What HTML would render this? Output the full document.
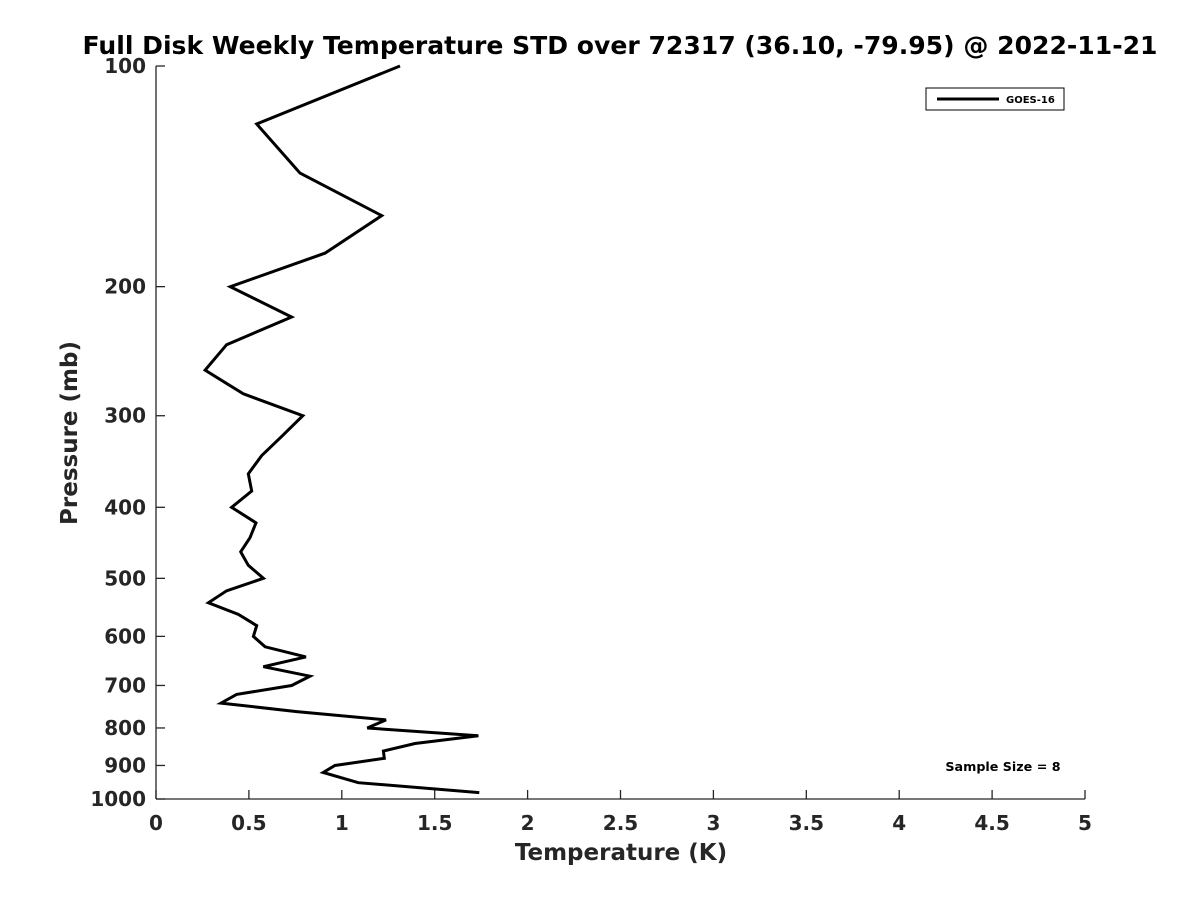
<!DOCTYPE html>
<html><head><meta charset="utf-8"><style>
html,body{margin:0;padding:0;background:#fff;}
svg{display:block;font-family:"DejaVu Sans","Liberation Sans",sans-serif;}
</style></head><body>
<svg id="chart" width="1200" height="900">
<text x="620" y="54" text-anchor="middle" font-size="25" font-weight="bold" textLength="1075" lengthAdjust="spacingAndGlyphs">Full Disk Weekly Temperature STD over 72317 (36.10, -79.95) @ 2022-11-21</text>
<g id="axes"></g>
<g id="plot"></g>
<text x="621" y="860" text-anchor="middle" font-size="23" font-weight="bold" fill="#262626">Temperature (K)</text>
<text transform="translate(77,433) rotate(-90)" text-anchor="middle" font-size="23" font-weight="bold" fill="#262626">Pressure (mb)</text>
<g>
<rect x="926" y="88" width="138" height="22" fill="#fff" stroke="#000" stroke-width="1"/>
<line x1="937" y1="99" x2="999" y2="99" stroke="#000" stroke-width="3"/>
<text x="1006" y="103" font-size="10" font-weight="bold">GOES-16</text>
</g>
<text x="1003" y="771" text-anchor="middle" font-size="12.7" font-weight="bold">Sample Size = 8</text>
</svg>
<script>
const pressures=[100,120,140,160,180,200,220,240,260,280,300,320,340,360,380,400,420,440,460,480,500,520,540,560,580,600,620,640,660,680,700,720,740,760,780,800,820,840,860,880,900,920,950,980];
const goes16=[1.313,0.542,0.775,1.215,0.91,0.40,0.73,0.38,0.264,0.47,0.79,0.677,0.569,0.497,0.515,0.407,0.538,0.506,0.456,0.497,0.578,0.38,0.282,0.443,0.542,0.524,0.587,0.807,0.578,0.829,0.73,0.434,0.35,0.757,1.238,1.137,1.735,1.394,1.224,1.229,0.963,0.90,1.089,1.74];
const xTicks=[0,0.5,1,1.5,2,2.5,3,3.5,4,4.5,5];
const xTickLabels=["0","0.5","1","1.5","2","2.5","3","3.5","4","4.5","5"];
const yTicks=[100,200,300,400,500,600,700,800,900,1000];
const yTickLabels=["100","200","300","400","500","600","700","800","900","1000"];
const X0=156,X1=1085,Y0=66,Y1=799;
const xs=v=>X0+(v-0)/(5-0)*(X1-X0);
const ys=p=>Y0+(Math.log10(p)-2)*(Y1-Y0);
const NS="http://www.w3.org/2000/svg";
const axes=document.getElementById('axes'),plot=document.getElementById('plot');
function mk(t,a,parent){const e=document.createElementNS(NS,t);for(const k in a)e.setAttribute(k,a[k]);parent.appendChild(e);return e;}
let e=mk('line',{x1:X0,y1:Y0,x2:X0,y2:Y1,stroke:'#262626','stroke-width':1.3},axes);


e=mk('line',{x1:X0,y1:Y1,x2:X1,y2:Y1,stroke:'#262626','stroke-width':1.3},axes);


xTicks.forEach((v,i)=>{
 const t=mk('line',{x1:xs(v),y1:Y1,x2:xs(v),y2:Y1-9,stroke:'#262626','stroke-width':1.3},axes);
 
 
 const l=mk('text',{x:xs(v),y:Y1+31,'text-anchor':'middle','font-size':20,'font-weight':'bold',fill:'#262626'},axes);
 l.textContent=xTickLabels[i];
 
 
});
yTicks.forEach((v,i)=>{
 const t=mk('line',{x1:X0,y1:ys(v),x2:X0+9,y2:ys(v),stroke:'#262626','stroke-width':1.3},axes);
 
 
 const l=mk('text',{x:X0-10,y:ys(v)+7,'text-anchor':'end','font-size':20,'font-weight':'bold',fill:'#262626'},axes);
 l.textContent=yTickLabels[i];
 
 
});
const pts=goes16.map((v,i)=>xs(v).toFixed(1)+','+ys(pressures[i]).toFixed(1)).join(' ');
const pl=mk('polyline',{points:pts,fill:'none',stroke:'#000','stroke-width':3,'stroke-linejoin':'miter'},plot);


</script>
</body></html>
